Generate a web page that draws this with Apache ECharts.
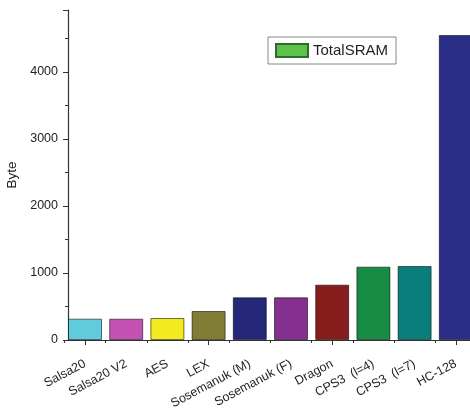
<!DOCTYPE html>
<html>
<head>
<meta charset="utf-8">
<script src="https://cdn.jsdelivr.net/npm/echarts@6/dist/echarts.min.js"></script>
<style>
  html, body { margin: 0; padding: 0; background: #fff; }
  #chart { width: 470px; height: 410px; }
</style>
</head>
<body>
<div id="chart"></div>
<script>
// Total SRAM footprint per stream cipher implementation
var ciphers = ['Salsa20', 'Salsa20 V2', 'AES', 'LEX', 'Sosemanuk (M)', 'Sosemanuk (F)',
               'Dragon', 'CPS3  (l=4)', 'CPS3  (l=7)', 'HC-128'];
var totalSram = [318, 318, 328, 433, 637, 637, 826, 1095, 1104, 4552];
var barColors = ['#5fcbdc', '#c452b4', '#f2ec1e', '#7f7d35', '#252878', '#85308f',
                 '#861d1c', '#168c44', '#0a7e7c', '#2b2e86'];
var yTicks = { min: 0, max: 4925, step: 1000 };

var font = 'Liberation Sans, Arial, sans-serif';
var ink = '#222';

var chart = echarts.init(document.getElementById('chart'), null, { renderer: 'canvas' });

chart.setOption({
  backgroundColor: '#fff',
  animation: false,
  grid: {
    left: 64.4, right: -6.4, top: 10, bottom: 70,
    containLabel: false, outerBoundsMode: 'none'
  },
  legend: {
    left: 268, top: 37,
    padding: [6, 8, 6, 7],
    borderColor: '#888', borderWidth: 1,
    backgroundColor: '#fff',
    icon: 'rect',
    itemWidth: 32, itemHeight: 13, itemGap: 4,
    textStyle: { fontFamily: font, fontSize: 15, color: ink },
    data: ['TotalSRAM']
  },
  xAxis: [{
    type: 'category',
    data: ciphers,
    boundaryGap: true,
    axisLine: { lineStyle: { color: '#333', width: 1.2 } },
    axisTick: { show: true, inside: false, length: 3, lineStyle: { color: '#333' } },
    axisLabel: {
      interval: 0, rotate: 28, margin: 23,
      fontFamily: font, fontSize: 12.5, color: ink
    }
  }, {
    type: 'category',
    data: ciphers,
    position: 'bottom',
    boundaryGap: true,
    axisLine: { show: false },
    axisTick: { show: true, alignWithLabel: true, length: 5, lineStyle: { color: '#333' } },
    axisLabel: { show: false }
  }],
  yAxis: {
    type: 'value',
    min: yTicks.min, max: yTicks.max, interval: yTicks.step,
    offset: -3.6,
    name: 'Byte',
    nameLocation: 'middle',
    nameGap: 46,
    nameTextStyle: { fontFamily: font, fontSize: 13.5, color: ink },
    axisLine: { show: true, lineStyle: { color: '#333', width: 1.2 } },
    axisTick: { show: true, length: 5, lineStyle: { color: '#333' } },
    minorTick: { show: true, splitNumber: 2, length: 3, lineStyle: { color: '#333' } },
    splitLine: { show: false },
    axisLabel: {
      margin: 10, fontFamily: font, fontSize: 12.5, color: ink,
      showMaxLabel: false,
      formatter: function (v) { return String(v); }
    }
  },
  series: [{
    name: 'TotalSRAM',
    type: 'bar',
    xAxisIndex: 0,
    barWidth: 34,
    itemStyle: { color: '#5cc24c', borderColor: '#2f6b2a', borderWidth: 1 },
    data: totalSram.map(function (v, i) {
      return {
        value: v,
        itemStyle: { color: barColors[i], borderColor: 'rgba(0,0,0,0.55)', borderWidth: 1 }
      };
    })
  }]
});
</script>
</body>
</html>
